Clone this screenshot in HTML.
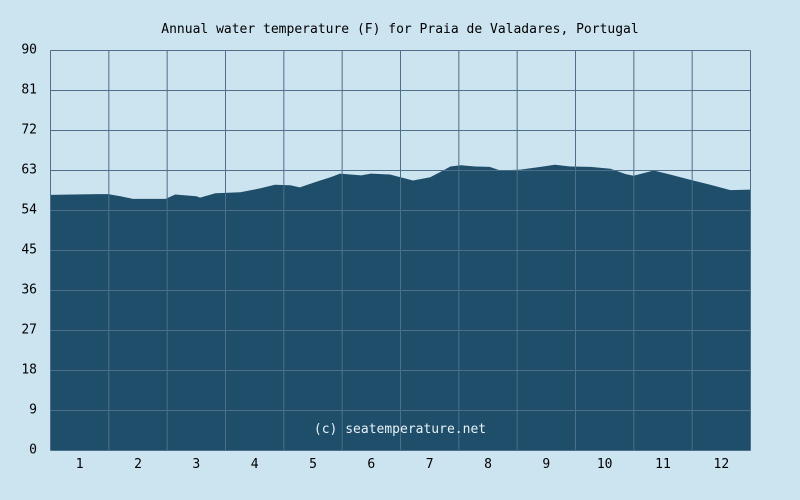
<!DOCTYPE html>
<html><head><meta charset="utf-8"><style>
body{margin:0;background:#cce3f0;}
svg{display:block;font-family:"DejaVu Sans Mono","Liberation Mono",monospace;}
</style></head><body>
<svg id="c" width="800" height="500"></svg>
<script>
const days=[0,24.5,30,36.5,43,60,65,76,78,86,99,109.5,117,125,130,138,146,151,162,167,177,182.5,189,198,203,208.5,214,221.5,229,234.5,245,255.5,263,271,281.5,292,300,304,314.5,323,333.5,344,354.5,365];
const temps=[57.5,57.7,57.7,57.2,56.6,56.6,57.6,57.2,56.9,57.9,58.1,59.0,59.8,59.7,59.2,60.4,61.5,62.3,61.9,62.3,62.1,61.5,60.75,61.5,62.6,63.9,64.2,63.9,63.8,63.0,63.2,63.8,64.3,63.9,63.8,63.4,62.2,61.8,63.0,62.1,60.9,59.8,58.6,58.7];
const yTicks=[0,9,18,27,36,45,54,63,72,81,90];
const months=["1","2","3","4","5","6","7","8","9","10","11","12"];
const NS="http://www.w3.org/2000/svg";
const svg=document.getElementById('c');
const L=50.5,R=750.5,T=50.5,B=450.5;
const xS=d=>L+d/365*(R-L);
const yS=v=>B-v/90*(B-T);
function mk(tag,attrs){const e=document.createElementNS(NS,tag);for(const k in attrs)e.setAttribute(k,attrs[k]);svg.appendChild(e);return e;}
const t=mk('text',{x:400,y:33,'text-anchor':'middle','font-size':13,fill:'#000'});


t.textContent='Annual water temperature (F) for Praia de Valadares, Portugal';
let pts=days.map((d,i)=>xS(d).toFixed(1)+','+yS(temps[i]).toFixed(1));
pts.push(xS(365)+','+B);pts.unshift(xS(0)+','+B);
const a=mk('polygon',{points:pts.join(' '),fill:'#1f4e6a'});


yTicks.forEach(v=>{
  const l=mk('line',{x1:L,x2:R,y1:yS(v),y2:yS(v),stroke:'#4d6f8a','stroke-width':1});
  
  
  const tx=mk('text',{x:37,y:yS(v)+3,'text-anchor':'end','font-size':13,fill:'#000'});
  
  
  tx.textContent=v;
});
for(let i=0;i<=12;i++){
  const x=L+i*(R-L)/12;
  const l=mk('line',{x1:x,x2:x,y1:T,y2:B,stroke:'#4d6f8a','stroke-width':1});
  
  
}
months.forEach((m,i)=>{
  const x=L+(i+0.5)*(R-L)/12;
  const tx=mk('text',{x:x,y:468,'text-anchor':'middle','font-size':13,fill:'#000'});
  
  
  tx.textContent=m;
});
const w=mk('text',{x:400,y:433,'text-anchor':'middle','font-size':13,fill:'#e8f2f8'});


w.textContent='(c) seatemperature.net';
</script>
</body></html>
